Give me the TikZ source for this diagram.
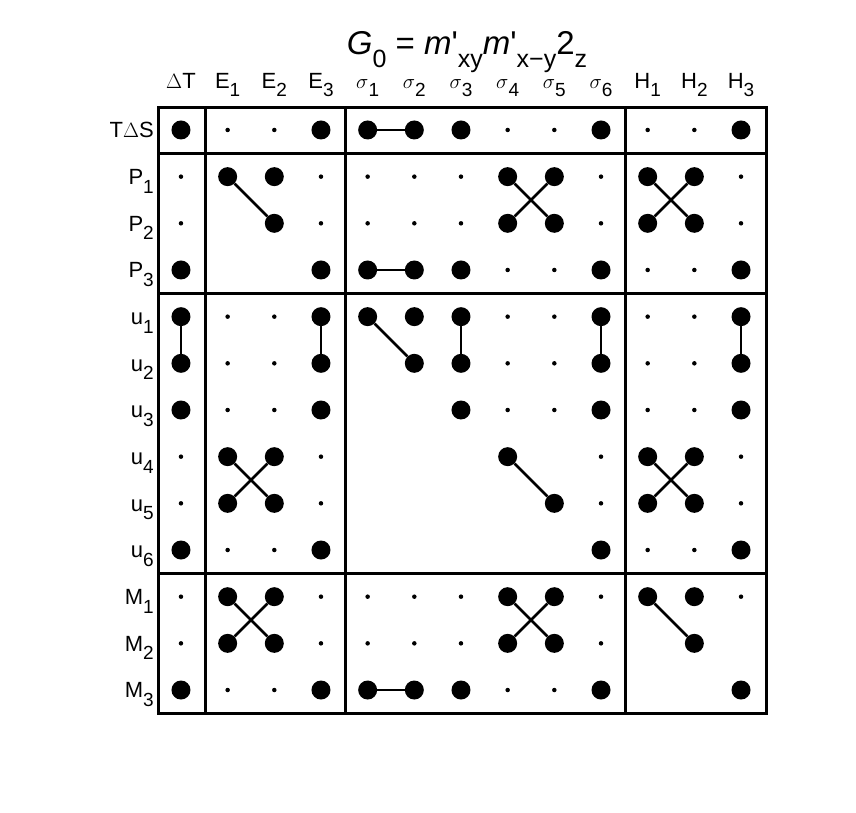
\documentclass[tikz,border=0pt]{standalone}
\usepackage{fontspec}
\setmainfont{Liberation Sans}
\usepackage{tikz}
\newcommand{\sbs}[1]{\raisebox{-0.75ex}{\fontsize{19}{20}\selectfont #1}}
\newcommand{\tsbs}[1]{\raisebox{-0.75ex}{\fontsize{25}{27}\selectfont #1}}
\tikzset{
  big/.style={circle,fill=black,inner sep=0pt,minimum size=19pt},
  small/.style={circle,fill=black,inner sep=0pt,minimum size=4.5pt},
  link/.style={line width=2.6pt},
  frame/.style={line width=3pt},
  lab/.style={font=\fontsize{22}{24}\selectfont}
}
\begin{document}
\begin{tikzpicture}[x=1pt,y=-1pt]
\useasboundingbox (0,0) rectangle (856,812);
% Title
\node[font=\fontsize{33}{36}\selectfont,anchor=base] (title) at (467,54)
  {\textit{G}\tsbs{0} = \textit{m}\textquotesingle\tsbs{xy}\textit{m}\textquotesingle\tsbs{x{\textminus}y}2\tsbs{z}};
% Column and row labels
\foreach \t [count=\c] in {$\Delta$T,E\sbs{1},E\sbs{2},E\sbs{3},$\sigma$\sbs{1},$\sigma$\sbs{2},$\sigma$\sbs{3},$\sigma$\sbs{4},$\sigma$\sbs{5},$\sigma$\sbs{6},H\sbs{1},H\sbs{2},H\sbs{3}}
  \node[lab,anchor=base] (col\c) at ({134.3+46.67*\c},88) {\t};
\foreach \t [count=\r] in {T$\Delta$S,P\sbs{1},P\sbs{2},P\sbs{3},u\sbs{1},u\sbs{2},u\sbs{3},u\sbs{4},u\sbs{5},u\sbs{6},M\sbs{1},M\sbs{2},M\sbs{3}}
  \node[lab,anchor=base east,inner sep=1pt] (row\r) at (155,{91+46.67*\r}) {\t};
% Entries: b = large dot, s = small dot, n = empty
\foreach \line [count=\r] in {
  {b,s,s,b,b,b,b,s,s,b,s,s,b},
  {s,b,b,s,s,s,s,b,b,s,b,b,s},
  {s,n,b,s,s,s,s,b,b,s,b,b,s},
  {b,n,n,b,b,b,b,s,s,b,s,s,b},
  {b,s,s,b,b,b,b,s,s,b,s,s,b},
  {b,s,s,b,n,b,b,s,s,b,s,s,b},
  {b,s,s,b,n,n,b,s,s,b,s,s,b},
  {s,b,b,s,n,n,n,b,n,s,b,b,s},
  {s,b,b,s,n,n,n,n,b,s,b,b,s},
  {b,s,s,b,n,n,n,n,n,b,s,s,b},
  {s,b,b,s,s,s,s,b,b,s,b,b,s},
  {s,b,b,s,s,s,s,b,b,s,n,b,n},
  {b,s,s,b,b,b,b,s,s,b,n,n,b}}
  \foreach \k [count=\c] in \line {
    \coordinate (p-\r-\c) at ({134.3+46.67*\c},{83.3+46.67*\r});
    \if b\k \node[big] (d-\r-\c) at (p-\r-\c) {};\fi
    \if s\k \node[small] (d-\r-\c) at (p-\r-\c) {};\fi
  };
% Links
\foreach \a/\b in {1-5/1-6, 4-5/4-6, 13-5/13-6,
    2-2/3-3, 2-8/3-9, 2-9/3-8, 2-11/3-12, 2-12/3-11,
    5-1/6-1, 5-4/6-4, 5-5/6-6, 5-7/6-7, 5-10/6-10, 5-13/6-13,
    8-2/9-3, 8-3/9-2, 8-8/9-9, 8-11/9-12, 8-12/9-11,
    11-2/12-3, 11-3/12-2, 11-8/12-9, 11-9/12-8, 11-11/12-12}
  \draw[link] (d-\a) -- (d-\b);
% Frame
\draw[frame] (158,107) rectangle (766,713);
\foreach \x in {205,345,625} \draw[frame] (\x,107) -- (\x,713);
\foreach \y in {153.5,293.5,573.5} \draw[frame] (158,\y) -- (766,\y);
\end{tikzpicture}
\end{document}
